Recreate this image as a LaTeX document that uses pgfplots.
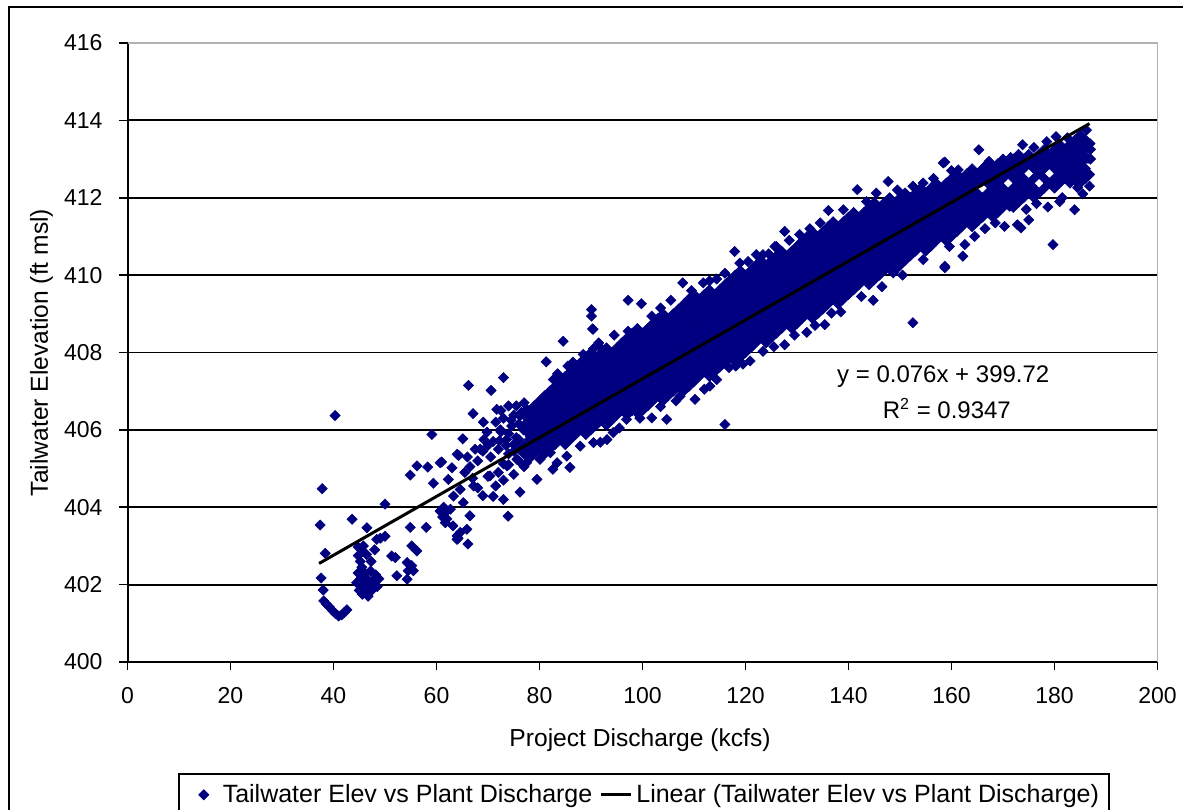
\documentclass[border=0pt]{standalone}
\usepackage{fontspec}
\setmainfont{Liberation Sans}
\usepackage{pgfplots}
\pgfplotsset{compat=1.18}
\definecolor{navy}{RGB}{0,0,128}
\pgfplotsset{
  scatlegend/.style={legend image code/.code={\path[draw=none,fill=none] (0pt,-2pt) rectangle (17pt,2pt); \draw[##1] plot coordinates {(9.5pt,0pt)};}},
  linlegend/.style={legend image code/.code={\draw[##1] (0pt,0pt) -- (15pt,0pt);}},
}
\begin{document}
\begin{tikzpicture}[x=1pt,y=1pt]
\useasboundingbox (0,0) rectangle (591.5,404.5);
\clip (0,0) rectangle (591.5,404.5);
\fill[white] (0,0) rectangle (591.5,404.5);
\draw[line width=1pt] (4.5,-20) rectangle (620,401);
\begin{axis}[
  at={(63.75pt,73.5pt)}, anchor=south west,
  scale only axis, width=515pt, height=309.5pt,
  xmin=0, xmax=200, ymin=400, ymax=416,
  xtick={0,20,...,200}, ytick={400,402,...,414},
  extra y ticks={416}, extra y tick style={grid=none},
  axis x line*=bottom, axis y line*=left,
  axis line style={-, black, line width=1pt},
  tick align=outside, major tick length=4pt,
  tick style={black, line width=0.8pt},
  ymajorgrids, grid style={black, line width=0.9pt},
  /pgf/number format/assume math mode=true,
  ticklabel style={font=\fontsize{11.5}{13}\selectfont},
  xticklabel style={yshift=-5pt},
  yticklabel style={xshift=-5pt},
  xlabel={Project Discharge (kcfs)},
  ylabel={Tailwater Elevation (ft msl)},
  every axis x label/.style={at={(axis description cs:0.4976,-0.127)},anchor=center,font=\fontsize{12.3}{14}\selectfont},
  every axis y label/.style={at={(axis description cs:-0.0834,0.5)},rotate=90,anchor=center,font=\fontsize{12.3}{14}\selectfont},
  legend style={at={(axis description cs:0.049,-0.18)}, anchor=north west, draw=black, line width=0.8pt, font=\fontsize{12.5}{14}\selectfont, legend columns=2, inner xsep=3pt, inner ysep=3pt, /tikz/every even column/.append style={column sep=1.5pt}},
  legend cell align=left,
  clip=false, clip marker paths=true,
]
\addplot[only marks, mark=square*, mark size=1.8pt, mark options={rotate=45, fill=navy, draw=navy, line width=0.3pt}, scatlegend]
coordinates {
(37.4,403.54)(37.8,404.48)(37.6,402.17)(38.0,401.86)(38.4,402.81)(38.1,401.58)(38.6,401.5)(39.2,401.42)(39.8,401.33)(40.4,401.25)(41.0,401.19)(41.6,401.22)(42.1,401.28)(42.6,401.35)(40.3,406.37)
(44.5,402.05)(44.8,402.3)(45.0,401.85)(45.3,402.15)(45.5,402.45)(45.6,401.75)(45.9,402.0)(46.1,402.3)(46.3,401.9)(46.5,402.15)(46.7,401.7)(46.9,402.05)(47.2,402.35)(47.4,401.85)(47.6,402.1)(47.9,402.0)(48.2,402.25)(48.5,401.95)(48.8,402.15)(45.2,402.6)(44.8,402.75)(43.6,403.69)(46.5,403.47)(45.4,402.9)(46.4,402.78)(47.3,402.6)(48.0,402.9)(49.1,403.2)(50.0,403.25)(50.0,404.08)(44.8,402.97)(45.8,403.0)(48.4,403.17)
(52.0,402.7)(54.3,402.57)(55.5,402.36)(52.3,402.23)(54.3,402.14)(54.9,403.48)(58.0,403.48)(55.2,403.0)(56.2,402.87)(54.9,404.83)(56.2,405.07)(58.3,405.04)(59.4,404.62)(61.0,405.17)(63.0,405.02)(62.3,404.72)(64.0,405.37)(63.3,404.29)(60.7,403.9)(61.2,403.75)(61.6,403.85)(62.0,403.7)(61.4,404.0)(63.2,403.52)(64.0,403.26)(59.1,405.88)(51.3,402.74)(54.5,402.36)(55.2,402.49)
(60.7,405.15)(64.3,405.34)(65.1,405.77)(67.1,406.42)(66.2,407.15)(70.6,407.02)(73.0,407.35)(69.1,406.2)(71.7,406.53)(62.7,403.95)(61.7,403.6)(65.2,404.12)(66.5,403.78)(64.6,403.35)(64.0,403.17)(65.9,403.43)(66.1,403.05)(64.2,403.2)(64.6,404.46)(67.2,404.55)(70.4,404.81)(73.7,405.07)
(68.5,405.5)(69.2,405.75)(69.8,405.94)(71.0,405.7)(72.2,405.72)(73.6,405.75)(72.4,406.0)(74.6,406.1)(76.2,406.36)(77.5,406.53)(76.9,406.0)(78.2,405.84)(80.1,406.44)(81.4,406.87)(82.7,407.3)(75.6,405.24)(77.5,405.15)(80.1,405.24)(82.1,405.41)(83.4,405.15)(85.3,405.32)(87.9,405.58)(90.5,405.67)(93.1,405.75)
(65.5,404.9)(66.0,405.3)(66.5,405.05)(67.0,404.75)(67.5,405.5)(68.0,405.2)(69.0,405.45)(70.0,405.6)(70.5,405.3)(71.5,406.2)(72.0,405.5)(72.5,405.95)(73.0,406.3)(73.5,405.6)(74.0,405.9)(74.5,406.25)(75.0,405.45)(75.5,405.8)(76.0,406.15)(76.5,406.45)(77.0,405.6)(77.5,405.95)(77.0,406.7)(76.0,405.2)(74.0,405.1)(72.0,404.9)(70.0,404.8)(68.0,404.5)(69.0,404.3)(71.5,404.55)(73.0,404.7)(75.0,404.85)(77.0,405.05)(79.5,404.72)(82.6,404.98)(85.9,405.03)(76.2,404.39)(73.9,403.77)(71.0,404.28)(73.0,404.2)
(75,405.62)(75,406.38)(76,405.5)(76,405.75)(77,405.38)(77,406.12)(77,406.38)(74,405.38)(74,406.62)(73,405.12)(75.5,406.62)(72.5,406.5)
(86.5,407.75)(88.5,407.95)(90.5,408.1)(91.5,408.25)(84.6,408.29)(90.4,408.6)(81.3,407.76)(85.5,407.65)(83.5,407.45)
(91.8,408.13)(97.2,408.55)(97.2,409.35)(99.8,409.26)(101.8,408.94)(107.8,409.8)(111.8,409.8)(114.4,409.9)(117.9,410.61)(118.9,410.31)(122.1,410.53)(123.4,410.53)(126,410.74)(125.7,410.74)(127.6,411.13)(90.1,409.11)(90.1,408.94)(90.3,408.61)(94.5,408.45)(103.5,409.15)(105.5,409.35)(109.5,409.6)(113,409.85)(116,410.05)(120.5,410.35)(124.5,410.55)(128.5,410.9)(130.5,411.05)(132.5,411.2)(134.5,411.35)
(94.3,405.93)(91.8,405.68)(96.9,406.27)(98.9,406.44)(101.8,406.31)(104.7,406.27)(107.3,406.87)(110.2,406.79)(113.1,407.13)(114.4,407.3)(116.8,407.61)(118.1,407.65)(120.9,407.78)(116.0,406.14)(123.4,408.03)(127.6,408.2)(131.9,408.52)(135.4,408.72)(136.7,409.02)(144.8,409.35)(148.7,410.06)(152.5,408.77)(95.5,406.05)(99.5,406.3)(103.5,406.6)(106.5,406.75)(112,407.05)(119.5,407.7)(125.5,408.15)(129.5,408.45)(133.5,408.7)(138.5,409.05)(142.5,409.45)(146.5,409.7)(150.5,410.0)(154.5,410.4)
(136.1,411.67)(139,411.69)(141.7,412.21)(147.7,412.42)(145.4,412.12)(154.5,412.38)(158.4,412.9)(143.5,411.9)(149.5,412.2)(152.5,412.3)(156.5,412.5)(158.7,412.92)(160,412.7)(161.3,412.72)
(165.3,413.24)(173.8,413.37)(180.3,413.58)(167.3,412.94)(171.5,413.04)(186.5,413.02)(183.9,412.85)(184.9,412.72)(184.2,412.42)(184.5,412.26)(186.9,413.4)(186.2,413.75)(182.5,413.55)(178.5,413.45)(176,413.3)
(162.6,410.79)(162.2,410.49)(158.7,410.19)(159.6,410.74)(170.3,411.26)(172.8,411.3)(173.5,411.22)(175,411.43)(171.3,411.78)(178.7,411.76)(183.9,411.69)(179.7,410.79)(158.7,410.23)(164.5,411.0)(166.5,411.2)(168.5,411.35)(174.5,411.7)(176.5,411.85)(181.5,412.0)(185.5,412.1)(186.8,412.3)(186.8,412.6)(181,411.9)
(78,405.25)(78,405.5)(78,405.75)(78,406)(78,406.25)(78,406.5)
(79,405.38)(79,405.62)(79,405.88)(79,406.12)(79,406.38)(79,406.62)
(80,405.5)(80,405.75)(80,406)(80,406.25)(80,406.5)(80,406.75)
(81,405.38)(81,405.62)(81,405.88)(81,406.12)(81,406.38)(81,406.62)(81,406.88)
(82,405.5)(82,405.75)(82,406)(82,406.25)(82,406.5)(82,406.75)(82,407)
(83,405.62)(83,405.88)(83,406.12)(83,406.38)(83,406.62)(83,406.88)(83,407.12)
(84,405.75)(84,406)(84,406.25)(84,406.5)(84,406.75)(84,407)(84,407.25)
(85,405.62)(85,405.88)(85,406.12)(85,406.38)(85,406.62)(85,406.88)(85,407.12)(85,407.38)
(86,405.75)(86,406)(86,406.25)(86,406.5)(86,406.75)(86,407)(86,407.25)(86,407.5)
(87,405.88)(87,406.12)(87,406.38)(87,406.62)(87,406.88)(87,407.12)(87,407.38)(87,407.62)
(88,406)(88,406.25)(88,406.5)(88,406.75)(88,407)(88,407.25)(88,407.5)(88,407.75)
(89,405.88)(89,406.12)(89,406.38)(89,406.62)(89,406.88)(89,407.12)(89,407.38)(89,407.62)(89,407.88)
(90,406)(90,406.25)(90,406.5)(90,406.75)(90,407)(90,407.25)(90,407.5)(90,407.75)(90,408)
(91,406.12)(91,406.38)(91,406.62)(91,406.88)(91,407.12)(91,407.38)(91,407.62)(91,407.88)
(92,406.25)(92,406.5)(92,406.75)(92,407)(92,407.25)(92,407.5)(92,407.75)(92,408)
(93,406.12)(93,406.38)(93,406.62)(93,406.88)(93,407.12)(93,407.38)(93,407.62)(93,407.88)(93,408.12)
(94,406.25)(94,406.5)(94,406.75)(94,407)(94,407.25)(94,407.5)(94,407.75)(94,408)
(95,406.38)(95,406.62)(95,406.88)(95,407.12)(95,407.38)(95,407.62)(95,407.88)(95,408.12)
(96,406.5)(96,406.75)(96,407)(96,407.25)(96,407.5)(96,407.75)(96,408)(96,408.25)
(97,406.38)(97,406.62)(97,406.88)(97,407.12)(97,407.38)(97,407.62)(97,407.88)(97,408.12)(97,408.38)
(98,406.5)(98,406.75)(98,407)(98,407.25)(98,407.5)(98,407.75)(98,408)(98,408.25)(98,408.5)
(99,406.62)(99,406.88)(99,407.12)(99,407.38)(99,407.62)(99,407.88)(99,408.12)(99,408.38)(99,408.62)
(100,406.5)(100,406.75)(100,407)(100,407.25)(100,407.5)(100,407.75)(100,408)(100,408.25)(100,408.5)
(101,406.62)(101,406.88)(101,407.12)(101,407.38)(101,407.62)(101,407.88)(101,408.12)(101,408.38)(101,408.62)
(102,406.75)(102,407)(102,407.25)(102,407.5)(102,407.75)(102,408)(102,408.25)(102,408.5)(102,408.75)
(103,406.88)(103,407.12)(103,407.38)(103,407.62)(103,407.88)(103,408.12)(103,408.38)(103,408.62)(103,408.88)
(104,406.75)(104,407)(104,407.25)(104,407.5)(104,407.75)(104,408)(104,408.25)(104,408.5)(104,408.75)(104,409)
(105,406.88)(105,407.12)(105,407.38)(105,407.62)(105,407.88)(105,408.12)(105,408.38)(105,408.62)(105,408.88)
(106,407)(106,407.25)(106,407.5)(106,407.75)(106,408)(106,408.25)(106,408.5)(106,408.75)(106,409)
(107,407.12)(107,407.38)(107,407.62)(107,407.88)(107,408.12)(107,408.38)(107,408.62)(107,408.88)(107,409.12)
(108,407)(108,407.25)(108,407.5)(108,407.75)(108,408)(108,408.25)(108,408.5)(108,408.75)(108,409)(108,409.25)
(109,407.12)(109,407.38)(109,407.62)(109,407.88)(109,408.12)(109,408.38)(109,408.62)(109,408.88)(109,409.12)(109,409.38)
(110,407.25)(110,407.5)(110,407.75)(110,408)(110,408.25)(110,408.5)(110,408.75)(110,409)(110,409.25)(110,409.5)
(111,407.38)(111,407.62)(111,407.88)(111,408.12)(111,408.38)(111,408.62)(111,408.88)(111,409.12)(111,409.38)
(112,407.5)(112,407.75)(112,408)(112,408.25)(112,408.5)(112,408.75)(112,409)(112,409.25)(112,409.5)
(113,407.38)(113,407.62)(113,407.88)(113,408.12)(113,408.38)(113,408.62)(113,408.88)(113,409.12)(113,409.38)(113,409.62)
(114,407.5)(114,407.75)(114,408)(114,408.25)(114,408.5)(114,408.75)(114,409)(114,409.25)(114,409.5)
(115,407.62)(115,407.88)(115,408.12)(115,408.38)(115,408.62)(115,408.88)(115,409.12)(115,409.38)(115,409.62)
(116,407.75)(116,408)(116,408.25)(116,408.5)(116,408.75)(116,409)(116,409.25)(116,409.5)(116,409.75)
(117,407.88)(117,408.12)(117,408.38)(117,408.62)(117,408.88)(117,409.12)(117,409.38)(117,409.62)(117,409.88)
(118,407.75)(118,408)(118,408.25)(118,408.5)(118,408.75)(118,409)(118,409.25)(118,409.5)(118,409.75)(118,410)
(119,407.88)(119,408.12)(119,408.38)(119,408.62)(119,408.88)(119,409.12)(119,409.38)(119,409.62)(119,409.88)(119,410.12)
(120,408)(120,408.25)(120,408.5)(120,408.75)(120,409)(120,409.25)(120,409.5)(120,409.75)(120,410)
(121,408.12)(121,408.38)(121,408.62)(121,408.88)(121,409.12)(121,409.38)(121,409.62)(121,409.88)(121,410.12)
(122,408.25)(122,408.5)(122,408.75)(122,409)(122,409.25)(122,409.5)(122,409.75)(122,410)(122,410.25)
(123,408.38)(123,408.62)(123,408.88)(123,409.12)(123,409.38)(123,409.62)(123,409.88)(123,410.12)(123,410.38)
(124,408.25)(124,408.5)(124,408.75)(124,409)(124,409.25)(124,409.5)(124,409.75)(124,410)(124,410.25)
(125,408.38)(125,408.62)(125,408.88)(125,409.12)(125,409.38)(125,409.62)(125,409.88)(125,410.12)(125,410.38)
(126,408.5)(126,408.75)(126,409)(126,409.25)(126,409.5)(126,409.75)(126,410)(126,410.25)(126,410.5)
(127,408.62)(127,408.88)(127,409.12)(127,409.38)(127,409.62)(127,409.88)(127,410.12)(127,410.38)(127,410.62)
(128,408.75)(128,409)(128,409.25)(128,409.5)(128,409.75)(128,410)(128,410.25)(128,410.5)
(129,408.62)(129,408.88)(129,409.12)(129,409.38)(129,409.62)(129,409.88)(129,410.12)(129,410.38)(129,410.62)
(130,408.75)(130,409)(130,409.25)(130,409.5)(130,409.75)(130,410)(130,410.25)(130,410.5)(130,410.75)
(131,408.88)(131,409.12)(131,409.38)(131,409.62)(131,409.88)(131,410.12)(131,410.38)(131,410.62)(131,410.88)
(132,409)(132,409.25)(132,409.5)(132,409.75)(132,410)(132,410.25)(132,410.5)(132,410.75)(132,411)
(133,408.88)(133,409.12)(133,409.38)(133,409.62)(133,409.88)(133,410.12)(133,410.38)(133,410.62)(133,410.88)(133,411.12)
(134,409)(134,409.25)(134,409.5)(134,409.75)(134,410)(134,410.25)(134,410.5)(134,410.75)(134,411)
(135,409.12)(135,409.38)(135,409.62)(135,409.88)(135,410.12)(135,410.38)(135,410.62)(135,410.88)(135,411.12)
(136,409.25)(136,409.5)(136,409.75)(136,410)(136,410.25)(136,410.5)(136,410.75)(136,411)(136,411.25)
(137,409.38)(137,409.62)(137,409.88)(137,410.12)(137,410.38)(137,410.62)(137,410.88)(137,411.12)(137,411.38)
(138,409.25)(138,409.5)(138,409.75)(138,410)(138,410.25)(138,410.5)(138,410.75)(138,411)(138,411.25)
(139,409.38)(139,409.62)(139,409.88)(139,410.12)(139,410.38)(139,410.62)(139,410.88)(139,411.12)(139,411.38)
(140,409.5)(140,409.75)(140,410)(140,410.25)(140,410.5)(140,410.75)(140,411)(140,411.25)(140,411.5)
(141,409.62)(141,409.88)(141,410.12)(141,410.38)(141,410.62)(141,410.88)(141,411.12)(141,411.38)(141,411.62)
(142,409.75)(142,410)(142,410.25)(142,410.5)(142,410.75)(142,411)(142,411.25)(142,411.5)
(143,409.88)(143,410.12)(143,410.38)(143,410.62)(143,410.88)(143,411.12)(143,411.38)(143,411.62)
(144,409.75)(144,410)(144,410.25)(144,410.5)(144,410.75)(144,411)(144,411.25)(144,411.5)(144,411.75)
(145,409.88)(145,410.12)(145,410.38)(145,410.62)(145,410.88)(145,411.12)(145,411.38)(145,411.62)(145,411.88)
(146,410)(146,410.25)(146,410.5)(146,410.75)(146,411)(146,411.25)(146,411.5)(146,411.75)
(147,410.12)(147,410.38)(147,410.62)(147,410.88)(147,411.12)(147,411.38)(147,411.62)(147,411.88)
(148,410.25)(148,410.5)(148,410.75)(148,411)(148,411.25)(148,411.5)(148,411.75)(148,412)
(149,410.12)(149,410.38)(149,410.62)(149,410.88)(149,411.12)(149,411.38)(149,411.62)(149,411.88)
(150,410.25)(150,410.5)(150,410.75)(150,411)(150,411.25)(150,411.5)(150,411.75)(150,412)
(151,410.38)(151,410.62)(151,410.88)(151,411.12)(151,411.38)(151,411.62)(151,411.88)(151,412.12)
(152,410.5)(152,410.75)(152,411)(152,411.25)(152,411.5)(152,411.75)(152,412)
(153,410.62)(153,410.88)(153,411.12)(153,411.38)(153,411.62)(153,411.88)(153,412.12)
(154,410.75)(154,411)(154,411.25)(154,411.5)(154,411.75)(154,412)(154,412.25)
(155,410.62)(155,410.88)(155,411.12)(155,411.38)(155,411.62)(155,411.88)(155,412.12)
(156,410.75)(156,411)(156,411.25)(156,411.5)(156,411.75)(156,412)(156,412.25)
(157,410.88)(157,411.12)(157,411.38)(157,411.62)(157,411.88)(157,412.12)(157,412.38)
(158,411)(158,411.25)(158,411.5)(158,411.75)(158,412)(158,412.25)
(159,410.88)(159,411.12)(159,411.38)(159,411.62)(159,411.88)(159,412.12)(159,412.38)
(160,411)(160,411.25)(160,411.5)(160,411.75)(160,412)(160,412.25)(160,412.5)
(161,411.12)(161,411.38)(161,411.62)(161,411.88)(161,412.12)(161,412.38)(161,412.62)
(162,411.25)(162,411.5)(162,411.75)(162,412)(162,412.25)(162,412.5)
(163,411.38)(163,411.62)(163,411.88)(163,412.12)(163,412.38)(163,412.62)
(164,411.25)(164,411.5)(164,411.75)(164,412)(164,412.25)(164,412.5)(164,412.75)
(165,411.38)(165,411.62)(165,411.88)(165,412.12)(165,412.38)(165,412.62)
(166,411.5)(166,411.75)(166,412)(166,412.5)(166,412.75)
(167,411.62)(167,411.88)(167,412.12)(167,412.38)(167,412.62)(167,412.88)
(168,411.5)(168,411.75)(168,412)(168,412.25)(168,412.5)(168,412.75)
(169,411.62)(169,411.88)(169,412.12)(169,412.38)(169,412.62)(169,412.88)
(170,411.75)(170,412)(170,412.25)(170,412.5)(170,412.75)(170,413)
(171,411.88)(171,412.12)(171,412.62)(171,412.88)
(172,411.75)(172,412)(172,412.25)(172,412.5)(172,412.75)(172,413)
(173,411.88)(173,412.12)(173,412.38)(173,412.62)(173,412.88)(173,413.12)
(174,412)(174,412.25)(174,412.5)(174,412.75)(174,413)
(175,412.12)(175,412.38)(175,412.88)(175,413.12)
(176,412)(176,412.25)(176,412.5)(176,412.75)(176,413)
(177,412.12)(177,412.62)(177,412.88)(177,413.12)
(178,412.25)(178,412.5)(178,412.75)(178,413)(178,413.25)
(179,412.38)(179,412.88)(179,413.12)
(180,412.25)(180,412.5)(180,412.75)(180,413)(180,413.25)
(181,412.38)(181,412.62)(181,412.88)(181,413.12)(181,413.38)
(182,412.5)(182,412.75)(182,413)(182,413.25)
(183,412.38)(183,412.62)(183,412.88)(183,413.12)(183,413.38)
(184,412.5)(184,412.75)(184,413)(184,413.25)(184,413.5)
(185,412.38)(185,412.62)(185,412.88)(185,413.12)(185,413.38)(185,413.62)
(186,412.5)(186,412.75)(186,413)(186,413.25)(186,413.5)
(187,413)(187,413.25)
};
\addlegendentry{Tailwater Elev vs Plant Discharge}
\addplot[black, line width=1.5pt, linlegend]
coordinates {(37.2,402.547)(186.8,413.917)};
\addlegendentry{Linear (Tailwater Elev vs Plant Discharge)}
\draw[gray!60, line width=0.8pt] (rel axis cs:0,1) -- (rel axis cs:1,1) -- (rel axis cs:1,0);
\node[font=\fontsize{12}{14}\selectfont, anchor=center] at (axis cs:158.4,407.37) {y = 0.076x + 399.72};
\node[font=\fontsize{12}{14}\selectfont, anchor=center] at (axis cs:159.1,406.56) {R\textsuperscript{2} = 0.9347};
\end{axis}
\end{tikzpicture}
\end{document}
